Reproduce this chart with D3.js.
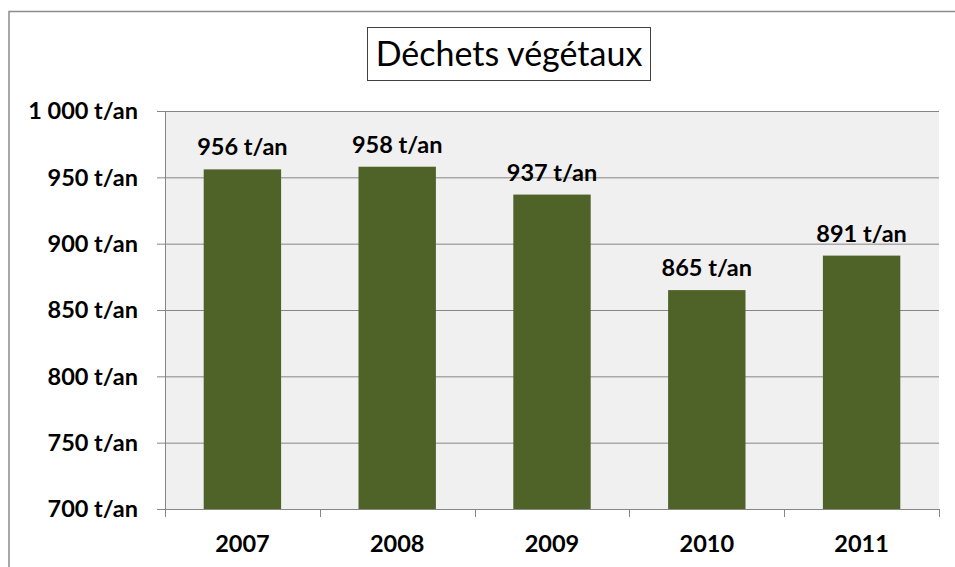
<!DOCTYPE html>
<html>
<head>
<meta charset="utf-8">
<script src="https://cdn.jsdelivr.net/npm/d3@7"></script>
<style>
  body { margin: 0; background: #fff; }
  svg { display: block; font-family: Lato, "Open Sans", sans-serif; }
</style>
</head>
<body>
<svg id="chart" width="955" height="567"></svg>
<script>
// chart data
const years = ["2007", "2008", "2009", "2010", "2011"];
const tonnes = [956, 958, 937, 865, 891];
const yTicks = [700, 750, 800, 850, 900, 950, 1000];
const title = "Déchets végétaux";

const svg = d3.select("#chart");
const margin = { top: 111, right: 16, bottom: 58, left: 165 };
const width = +svg.attr("width") - margin.left - margin.right;
const height = +svg.attr("height") - margin.top - margin.bottom;
const fs = 23.5;

const fmt = v => d3.format(",")(v).replace(/,/g, " ") + " t/an";

// outer chart border (right/bottom clipped in the original)
svg.append("path")
  .attr("d", "M9,567 V11.5 H955")
  .attr("fill", "none")
  .attr("stroke", "#8c8c8c")
  .attr("stroke-width", 1.5);

const g = svg.append("g")
  .attr("transform", "translate(" + margin.left + "," + margin.top + ")");

const x = d3.scaleBand().domain(years).range([0, width]).paddingInner(0.5).paddingOuter(0.25);
const y = d3.scaleLinear().domain([700, 1000]).range([height, 0]);

g.append("rect")
  .attr("width", width)
  .attr("height", height)
  .attr("fill", "#f0f0f0");

// gridlines + y ticks
g.append("g")
  .attr("class", "axis axis--y")
  .call(d3.axisLeft(y).tickValues(yTicks).tickSize(-width).tickPadding(0).tickFormat(""))
  .call(s => s.select(".domain").remove())
  .call(s => s.selectAll(".tick line").attr("stroke", "#868686").attr("x1", -8));

g.selectAll(".ylab")
  .data(yTicks)
  .enter().append("text")
  .attr("class", "ylab")
  .attr("x", -27)
  .attr("y", d => y(d))
  .attr("dy", "0.35em")
  .attr("text-anchor", "end")
  .attr("font-size", fs)
  .attr("font-weight", "bold")
  .text(fmt);

// bars
g.selectAll(".bar")
  .data(tonnes)
  .enter().append("rect")
  .attr("class", "bar")
  .attr("x", (d, i) => x(years[i]))
  .attr("y", d => y(d))
  .attr("width", x.bandwidth())
  .attr("height", d => height - y(d))
  .attr("fill", "#4f6228");

g.selectAll(".value")
  .data(tonnes)
  .enter().append("text")
  .attr("class", "value")
  .attr("x", (d, i) => x(years[i]) + x.bandwidth() / 2)
  .attr("y", d => y(d) - 14)
  .attr("text-anchor", "middle")
  .attr("font-size", fs)
  .attr("font-weight", "bold")
  .text(fmt);

// vertical axis line
g.append("line")
  .attr("x1", 0.5).attr("x2", 0.5)
  .attr("y1", 0).attr("y2", height)
  .attr("stroke", "#868686");

// x axis with ticks at category boundaries
const step = x.step();
g.append("line")
  .attr("x1", 0).attr("x2", width)
  .attr("y1", height + 0.5).attr("y2", height + 0.5)
  .attr("stroke", "#868686");
g.selectAll(".xtick")
  .data(d3.range(years.length + 1))
  .enter().append("line")
  .attr("class", "xtick")
  .attr("x1", i => Math.round(i * step) + 0.5)
  .attr("x2", i => Math.round(i * step) + 0.5)
  .attr("y1", height)
  .attr("y2", height + 8)
  .attr("stroke", "#868686");

g.selectAll(".xlab")
  .data(years)
  .enter().append("text")
  .attr("class", "xlab")
  .attr("x", d => x(d) + x.bandwidth() / 2)
  .attr("y", height + 43)
  .attr("text-anchor", "middle")
  .attr("font-size", fs)
  .attr("font-weight", "bold")
  .text(d => d);

// title box
const tg = svg.append("g");
tg.append("rect")
  .attr("x", 367.5)
  .attr("y", 27.5)
  .attr("width", 283)
  .attr("height", 53)
  .attr("fill", "#fff")
  .attr("stroke", "#404040");
tg.append("text")
  .attr("x", 509)
  .attr("y", 66)
  .attr("text-anchor", "middle")
  .attr("font-size", 34)
  .text(title);
</script>
</body>
</html>
